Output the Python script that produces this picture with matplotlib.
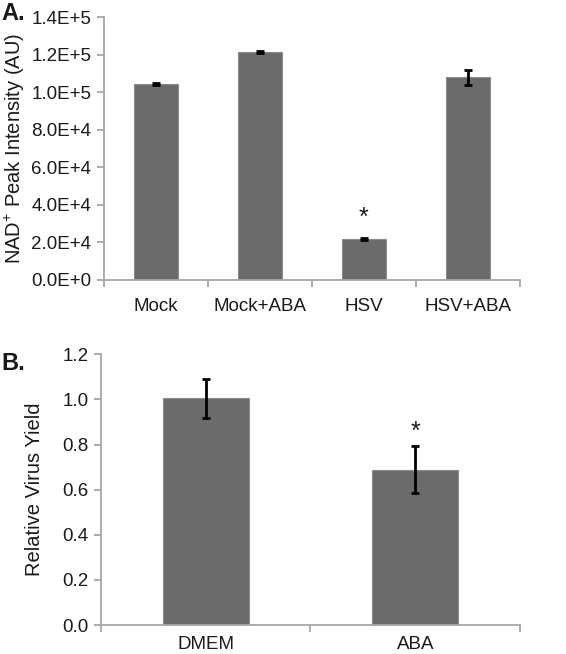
import matplotlib
matplotlib.use("Agg")
import matplotlib.pyplot as plt
import numpy as np

plt.rcParams["font.family"] = ["Liberation Sans", "DejaVu Sans"]
plt.rcParams["mathtext.fontset"] = "custom"
plt.rcParams["mathtext.rm"] = "Liberation Sans"

# Panel A data
a_groups = ["Mock", "Mock+ABA", "HSV", "HSV+ABA"]
a_values = [1.045e5, 1.212e5, 2.18e4, 1.079e5]
a_errors = [600, 600, 600, 4100]
a_yticks = [0, 2e4, 4e4, 6e4, 8e4, 1.0e5, 1.2e5, 1.4e5]
a_yticklabels = ["0.0E+0", "2.0E+4", "4.0E+4", "6.0E+4", "8.0E+4",
                 "1.0E+5", "1.2E+5", "1.4E+5"]
a_star_index = 2
a_star_y = 3.3e4

# Panel B data
b_groups = ["DMEM", "ABA"]
b_values = [1.005, 0.688]
b_errors = [0.087, 0.104]
b_yticks = [0.0, 0.2, 0.4, 0.6, 0.8, 1.0, 1.2]
b_star_index = 1
b_star_y = 0.855

BAR = "#6b6b6b"
AXIS = "#a6a6a6"
TEXT = "#1a1a1a"


def style_axes(ax, n):
    for s in ("top", "right"):
        ax.spines[s].set_visible(False)
    for s in ("left", "bottom"):
        ax.spines[s].set_color(AXIS)
        ax.spines[s].set_linewidth(1.3)
    ax.set_xlim(-0.5, n - 0.5)
    ax.set_xticks(range(n))
    ax.set_xticks(np.arange(-0.5, n, 1.0), minor=True)
    ax.tick_params(axis="x", which="major", length=0, labelsize=13.5,
                   colors=TEXT)
    ax.tick_params(axis="x", which="minor", length=5, width=1.3,
                   color=AXIS, direction="out")
    ax.tick_params(axis="y", length=5, width=1.3, color=AXIS,
                   labelsize=13.5, labelcolor=TEXT, pad=4)


fig = plt.figure(figsize=(5.66, 6.54), dpi=100)

# ---- Panel A ----
axA = fig.add_axes([0.1837, 0.5719, 0.735, 0.4021])
xa = np.arange(len(a_groups))
axA.bar(xa, a_values, width=0.43, color=BAR, edgecolor="#8c8c8c",
        linewidth=0.8, zorder=2)
axA.errorbar(xa, a_values, yerr=a_errors, fmt="none", ecolor="black",
             elinewidth=2, capsize=3, capthick=2, zorder=3)
style_axes(axA, len(a_groups))
axA.set_ylim(0, 1.4e5)
axA.set_yticks(a_yticks)
axA.set_yticklabels(a_yticklabels)
axA.set_xticklabels(a_groups)
axA.tick_params(axis="x", which="major", pad=13)
axA.set_ylabel("NAD$^{+}$ Peak Intensity (AU)", fontsize=14.5, color=TEXT,
               labelpad=3)
axA.text(xa[a_star_index], a_star_y, "*", ha="center", va="center",
         fontsize=18, color=TEXT)
fig.text(0.002, 0.997, "A.", fontsize=17, fontweight="bold", va="top",
         ha="left", color=TEXT)

# ---- Panel B ----
axB = fig.add_axes([0.1784, 0.0443, 0.7403, 0.414])
xb = np.arange(len(b_groups))
axB.bar(xb, b_values, width=0.41, color=BAR, edgecolor="#8c8c8c",
        linewidth=0.8, zorder=2)
axB.errorbar(xb, b_values, yerr=b_errors, fmt="none", ecolor="black",
             elinewidth=2, capsize=3, capthick=2, zorder=3)
style_axes(axB, len(b_groups))
axB.set_ylim(0, 1.2)
axB.set_yticks(b_yticks)
axB.set_yticklabels([f"{v:.1f}" for v in b_yticks])
axB.set_xticklabels(b_groups)
axB.tick_params(axis="x", which="major", pad=8)
axB.set_ylabel("Relative Virus Yield", fontsize=14.5, color=TEXT, labelpad=13)
axB.text(xb[b_star_index], b_star_y, "*", ha="center", va="center",
         fontsize=18, color=TEXT)
fig.text(0.002, 0.462, "B.", fontsize=17, fontweight="bold", va="top",
         ha="left", color=TEXT)

fig.savefig("out.png", dpi=100)
